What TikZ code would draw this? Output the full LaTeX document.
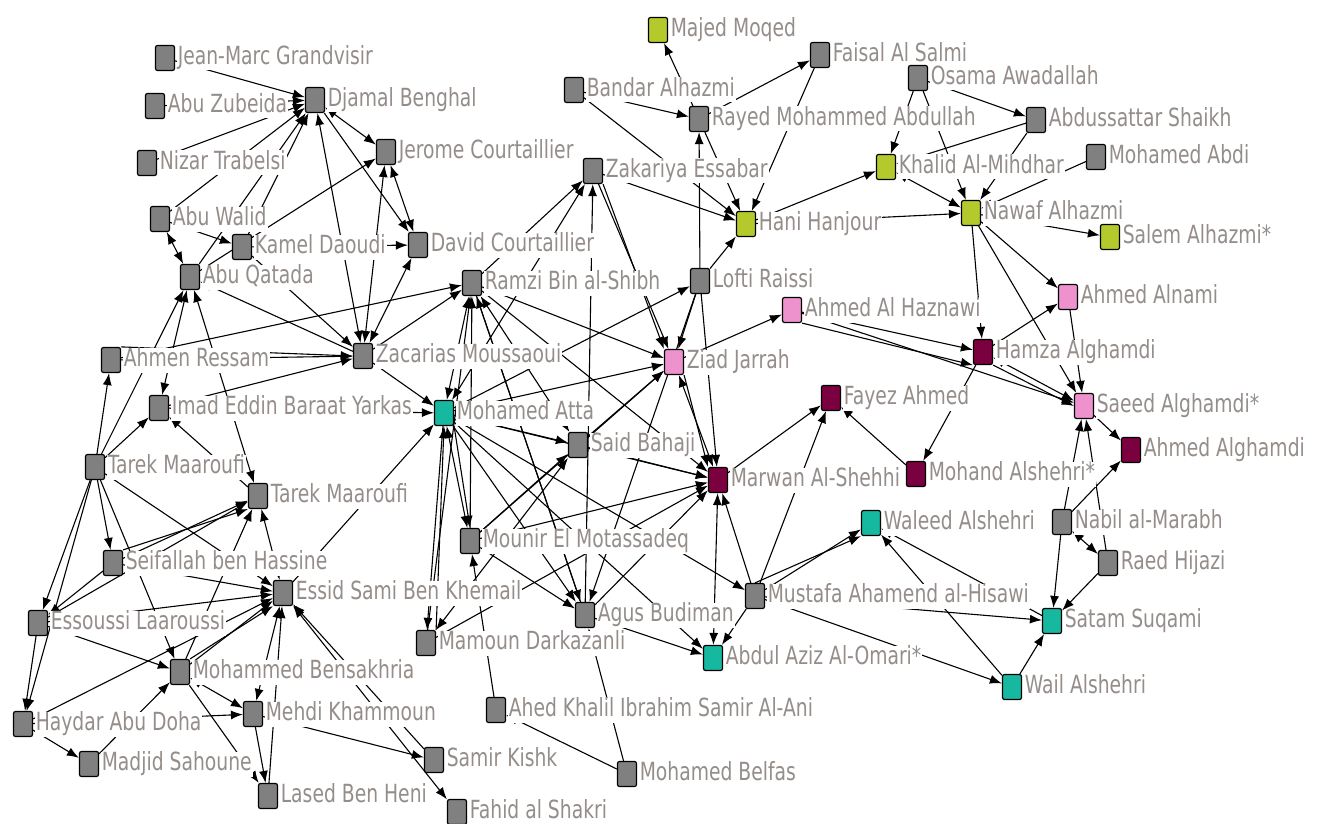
\documentclass[tikz,border=0pt]{standalone}
\usepackage{fontspec}
\usetikzlibrary{arrows.meta}
\newfontfamily\labfont{DejaVu Sans}[FakeStretch=0.75]
\definecolor{cgrey}{RGB}{128,128,128}
\definecolor{clime}{RGB}{180,202,44}
\definecolor{cpink}{RGB}{238,146,206}
\definecolor{cmaroon}{RGB}{123,0,64}
\definecolor{cteal}{RGB}{22,185,160}
\definecolor{labgrey}{RGB}{148,141,137}
\pgfdeclarelayer{bg}
\pgfdeclarelayer{edges}
\pgfdeclarelayer{top}
\pgfsetlayers{bg,edges,main,top}
\tikzset{
  agentbox/.style={draw=black, line width=1.2pt, rounded corners=2pt,
    minimum width=19pt, minimum height=25pt, inner sep=0pt},
  agentlabel/.style={anchor=west, xshift=1.5pt, fill=white, inner sep=1pt,
    text=labgrey, font=\labfont\fontsize{25}{27}\selectfont,
    text height=18pt, text depth=5pt},
  link/.style={draw=black, line width=1.1pt, -{Latex[length=12pt,width=9pt]}},
  mutual/.style={draw=black, line width=1.1pt, {Latex[length=12pt,width=9pt]}-{Latex[length=12pt,width=9pt]}},
}
% one agent: id, x, y, fill colour, name
\newcommand\agent[5]{%
  \begin{pgfonlayer}{top}\node[agentbox, fill=#4] (#1) at (#2,#3) {};\end{pgfonlayer}
  \node[agentlabel] (#1-txt) at (#1.east) {#5};}
\begin{document}
\begin{tikzpicture}[x=1pt,y=-1pt]
\begin{pgfonlayer}{bg}
\fill[white] (0,0) rectangle (1331,824);
\end{pgfonlayer}
\useasboundingbox (0,0) rectangle (1331,824);

\agent{jm}{165}{58}{cgrey}{Jean-Marc Grandvisir}
\agent{abuz}{155}{106}{cgrey}{Abu Zubeida}
\agent{djamal}{315}{100}{cgrey}{Djamal Benghal}
\agent{nizar}{147}{163}{cgrey}{Nizar Trabelsi}
\agent{jerome}{386}{152}{cgrey}{Jerome Courtaillier}
\agent{abuwalid}{160}{219}{cgrey}{Abu Walid}
\agent{kamel}{242}{247}{cgrey}{Kamel Daoudi}
\agent{david}{418}{245}{cgrey}{David Courtaillier}
\agent{abuq}{190}{277}{cgrey}{Abu Qatada}
\agent{ramzi}{472}{283}{cgrey}{Ramzi Bin al-Shibh}
\agent{zac}{363}{356}{cgrey}{Zacarias Moussaoui}
\agent{ahmen}{111}{360}{cgrey}{Ahmen Ressam}
\agent{imad}{159}{408}{cgrey}{Imad Eddin Baraat Yarkas}
\agent{atta}{444}{413}{cteal}{Mohamed Atta}
\agent{said}{578}{445}{cgrey}{Said Bahaji}
\agent{tarekA}{95}{467}{cgrey}{Tarek Maaroufi}
\agent{tarekB}{258}{496}{cgrey}{Tarek Maaroufi}
\agent{mounir}{470}{541}{cgrey}{Mounir El Motassadeq}
\agent{seif}{113}{563}{cgrey}{Seifallah ben Hassine}
\agent{essid}{283}{593}{cgrey}{Essid Sami Ben Khemail}
\agent{essou}{38}{623}{cgrey}{Essoussi Laaroussi}
\agent{mamoun}{426}{643}{cgrey}{Mamoun Darkazanli}
\agent{agus}{585}{615}{cgrey}{Agus Budiman}
\agent{bensak}{180}{672}{cgrey}{Mohammed Bensakhria}
\agent{mehdi}{253}{714}{cgrey}{Mehdi Khammoun}
\agent{haydar}{23}{724}{cgrey}{Haydar Abu Doha}
\agent{madjid}{89}{764}{cgrey}{Madjid Sahoune}
\agent{ahed}{496}{710}{cgrey}{Ahed Khalil Ibrahim Samir Al-Ani}
\agent{samir}{434}{760}{cgrey}{Samir Kishk}
\agent{lased}{268}{796}{cgrey}{Lased Ben Heni}
\agent{fahid}{457}{812}{cgrey}{Fahid al Shakri}
\agent{belfas}{627}{774}{cgrey}{Mohamed Belfas}
\agent{abdul}{713}{658}{cteal}{Abdul Aziz Al-Omari*}
\agent{mustafa}{755}{596}{cgrey}{Mustafa Ahamend al-Hisawi}
\agent{marwan}{718}{480}{cmaroon}{Marwan Al-Shehhi}
\agent{ziad}{674}{362}{cpink}{Ziad Jarrah}
\agent{lofti}{700}{281}{cgrey}{Lofti Raissi}
\agent{zakariya}{593}{171}{cgrey}{Zakariya Essabar}
\agent{bandar}{574}{90}{cgrey}{Bandar Alhazmi}
\agent{rayed}{699}{119}{cgrey}{Rayed Mohammed Abdullah}
\agent{majed}{658}{30}{clime}{Majed Moqed}
\agent{faisal}{820}{55}{cgrey}{Faisal Al Salmi}
\agent{hani}{746}{224}{clime}{Hani Hanjour}
\agent{osama}{918}{78}{cgrey}{Osama Awadallah}
\agent{abduss}{1036}{120}{cgrey}{Abdussattar Shaikh}
\agent{khalid}{886}{167}{clime}{Khalid Al-Mihdhar}
\agent{abdi}{1096}{157}{cgrey}{Mohamed Abdi}
\agent{nawaf}{971}{213}{clime}{Nawaf Alhazmi}
\agent{salem}{1110}{237}{clime}{Salem Alhazmi*}
\agent{alnami}{1068}{297}{cpink}{Ahmed Alnami}
\agent{haznawi}{792}{310}{cpink}{Ahmed Al Haznawi}
\agent{hamza}{983}{352}{cmaroon}{Hamza Alghamdi}
\agent{saeed}{1084}{406}{cpink}{Saeed Alghamdi*}
\agent{fayez}{831}{398}{cmaroon}{Fayez Ahmed}
\agent{mohand}{916}{474}{cmaroon}{Mohand Alshehri*}
\agent{ahmedg}{1131}{450}{cmaroon}{Ahmed Alghamdi}
\agent{waleed}{871}{523}{cteal}{Waleed Alshehri}
\agent{nabil}{1062}{522}{cgrey}{Nabil al-Marabh}
\agent{raed}{1108}{563}{cgrey}{Raed Hijazi}
\agent{satam}{1052}{621}{cteal}{Satam Suqami}
\agent{wail}{1012}{687}{cteal}{Wail Alshehri}

\begin{pgfonlayer}{edges}
% Benghal / Moussaoui group
\draw[link] (jm) -- (djamal);
\draw[link] (abuz) -- (djamal);
\draw[link] (nizar) -- (djamal);
\draw[link] (abuwalid) -- (djamal);
\draw[link] (abuq) -- (djamal);
\draw[link] (kamel) -- (djamal);
\draw[mutual] (zac) -- (djamal);
\draw[mutual] (djamal) -- (jerome);
\draw[link] (djamal) -- (david);
\draw[mutual] (jerome) -- (david);
\draw[link] (abuq) -- (jerome);
\draw[mutual] (zac) -- (jerome);
\draw[mutual] (zac) -- (david);
\draw[link] (kamel) -- (david);
\draw[link] (abuwalid) -- (kamel);
\draw[mutual] (abuwalid) -- (abuq);
\draw[link] (kamel) -- (zac);
\draw[link] (zac) -- (abuq);
\draw[link] (ahmen) -- (zac);
\draw[link] (ahmen.north east) -- (zac.west);
\draw[link] (ahmen) -- (ramzi);
\draw[link] (zac) -- (ramzi);
\draw[link] (tarekA) -- (abuq);
\draw[mutual] (imad) -- (abuq);
\draw[mutual] (tarekB) -- (abuq);
\draw[link] (tarekA) -- (ahmen);
\draw[link] (tarekA) -- (imad);
\draw[link] (tarekB) -- (imad);
\draw[link] (imad) -- (zac);
\draw[link] (imad) -- (atta);
\draw[link] (zac) -- (atta);
% Maaroufi / Khemail group
\draw[link] (tarekA) -- (essou);
\draw[link] (tarekA) -- (haydar);
\draw[link] (tarekA) -- (seif);
\draw[link] (tarekA) -- (bensak);
\draw[link] (tarekA) -- (essid);
\draw[link] (seif) -- (tarekB);
\draw[link] (seif.north east) -- (tarekB.south west);
\draw[link] (essou) -- (tarekB);
\draw[link] (bensak) -- (tarekB);
\draw[mutual] (essid) -- (tarekB);
\draw[link] (seif) -- (essid);
\draw[link] (seif) -- (essou);
\draw[link] (essou) -- (essid);
\draw[link] (haydar) -- (essid);
\draw[link] (bensak) -- (essid);
\draw[link] (bensak.north east) -- (essid.south west);
\draw[mutual] (mehdi) -- (essid);
\draw[link] (lased) -- (essid);
\draw[link] (samir) -- (essid);
\draw[mutual] (fahid) -- (essid);
\draw[link] (essou) -- (haydar);
\draw[link] (essou) -- (bensak);
\draw[link] (haydar) -- (madjid);
\draw[link] (haydar) -- (mehdi);
\draw[link] (madjid) -- (bensak);
\draw[mutual] (bensak) -- (mehdi);
\draw[link] (bensak) -- (lased);
\draw[link] (mehdi) -- (lased);
\draw[link] (mehdi) -- (samir);
\draw[link] (essid) -- (atta);
% Hamburg group
\draw[mutual] (ramzi) -- (atta);
\draw[link] (mounir) -- (ramzi);
\draw[link] (mamoun) -- (ramzi);
\draw[link] (agus) -- (ramzi);
\draw[mutual] (said) -- (ramzi);
\draw[link] (ramzi) -- (ziad);
\draw[link] (ramzi) -- (marwan);
\draw[link] (ramzi) -- (zakariya);
\draw[link] (ramzi) -- (agus);
\draw[mutual] (atta) -- (zakariya);
\draw[link] (agus) -- (zakariya);
\draw[link] (zakariya) -- (ziad);
\draw[link] (zakariya.south east) -- (ziad.north west);
\draw[link] (zakariya) -- (hani);
\draw[link] (atta) -- (lofti);
\draw[link] (atta) -- (ziad);
\draw[link] (atta) -- (said);
\draw[link] (atta) -- (marwan);
\draw[link] (atta) -- (mustafa);
\draw[link] (atta) -- (agus);
\draw[link] (atta) -- (abdul);
\draw[mutual] (atta) -- (mounir);
\draw[link] (atta.south east) -- (mounir.north);
\draw[link] (atta) -- (mamoun);
\draw[link] (mamoun.north east) -- (atta.south);
\draw[link] (mounir) -- (said);
\draw[mutual] (mamoun) -- (said);
\draw[link] (mounir) -- (ziad);
\draw[link] (said) -- (ziad);
\draw[link] (said) -- (marwan);
\draw[link] (mounir) -- (marwan);
\draw[link] (mamoun) -- (marwan);
\draw[link] (agus) -- (marwan);
\draw[link] (mounir) -- (agus);
\draw[link] (ahed) -- (mounir);
\draw[link] (belfas) -- (ahed);
\draw[link] (belfas) -- (agus);
\draw[link] (lofti) -- (agus);
\draw[link] (lofti) -- (ziad);
\draw[link] (lofti) -- (marwan);
\draw[link] (lofti) -- (rayed);
\draw[link] (lofti) -- (hani);
\draw[mutual] (ziad) -- (marwan);
\draw[link] (ziad.south east) -- (marwan.north west);
\draw[link] (ziad) -- (haznawi);
\draw[mutual] (marwan) -- (abdul);
\draw[link] (agus) -- (abdul);
\draw[link] (mustafa) -- (abdul);
\draw[link] (mustafa) -- (marwan);
\draw[link] (mustafa) -- (fayez);
\draw[link] (marwan) -- (fayez);
% flight crews
\draw[link] (mohand) -- (fayez);
\draw[link] (hamza) -- (mohand);
\draw[link] (mustafa) -- (waleed);
\draw[link] (mustafa.north) -- (waleed.south west);
\draw[link] (satam) -- (waleed);
\draw[link] (wail) -- (waleed);
\draw[link] (mustafa) -- (satam);
\draw[link] (mustafa) -- (wail);
\draw[link] (wail) -- (satam);
\draw[link] (nabil) -- (satam);
\draw[link] (raed) -- (satam);
\draw[mutual] (nabil) -- (raed);
\draw[link] (nabil) -- (saeed);
\draw[link] (raed) -- (saeed);
\draw[link] (nabil) -- (ahmedg);
\draw[link] (saeed) -- (ahmedg);
\draw[link] (haznawi) -- (hamza);
\draw[link] (haznawi.south east) -- (hamza.south west);
\draw[link] (haznawi) -- (saeed);
\draw[mutual] (hamza) -- (saeed);
\draw[link] (hamza.south east) -- (saeed.west);
\draw[link] (hamza) -- (alnami);
\draw[link] (nawaf) -- (alnami);
\draw[link] (nawaf) -- (hamza);
\draw[link] (nawaf) -- (saeed);
\draw[link] (alnami) -- (saeed);
\draw[link] (nawaf) -- (salem);
\draw[mutual] (khalid) -- (nawaf);
\draw[link] (hani) -- (nawaf);
\draw[link] (hani) -- (khalid);
\draw[link] (osama) -- (khalid);
\draw[link] (osama) -- (abduss);
\draw[link] (osama) -- (nawaf);
\draw[link] (abduss) -- (khalid);
\draw[link] (abduss) -- (nawaf);
\draw[link] (abdi) -- (nawaf);
\draw[link] (bandar) -- (rayed);
\draw[link] (bandar) -- (hani);
\draw[link] (rayed) -- (majed);
\draw[link] (rayed) -- (faisal);
\draw[link] (rayed) -- (hani);
\draw[link] (faisal) -- (hani);
\end{pgfonlayer}
\end{tikzpicture}
\end{document}
